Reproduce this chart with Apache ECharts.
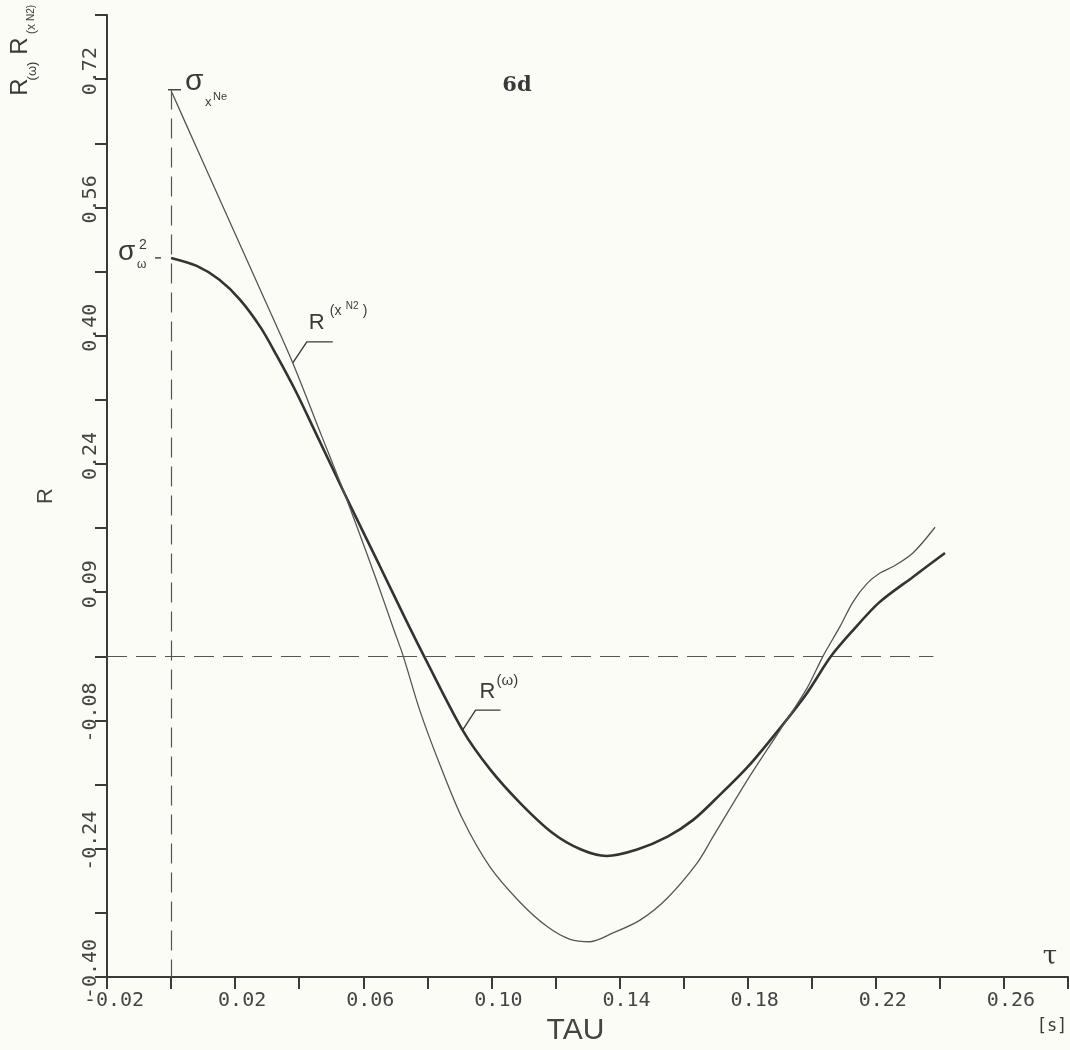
<!DOCTYPE html>
<html>
<head>
<meta charset="utf-8">
<script src="https://cdn.jsdelivr.net/npm/echarts@6/dist/echarts.min.js"></script>
<style>
html, body { margin: 0; padding: 0; background: #fcfcf6; }
#chart { width: 1070px; height: 1050px; }
</style>
</head>
<body>
<div id="chart"></div>
<script>
// tick labels as printed on the plot (every other tick is labelled)
const xTickLabels = ['-0.02', '', '0.02', '', '0.06', '', '0.10', '', '0.14', '', '0.18', '', '0.22', '', '0.26', ''];
const yTickLabels = ['-0.40', '', '-0.24', '', '-0.08', '', '0.09', '', '0.24', '', '0.40', '', '0.56', '', '0.72', ''];

// R(omega) - thick curve
const tauOmega = [0.000, 0.008, 0.015, 0.0215, 0.028, 0.033, 0.039, 0.045, 0.055, 0.065, 0.073, 0.079,
  0.091, 0.0996, 0.109, 0.119, 0.128, 0.136, 0.1455, 0.155, 0.163, 0.170, 0.180, 0.190, 0.1985, 0.206,
  0.213, 0.221, 0.2316, 0.2416];
const rOmega = [0.497, 0.487, 0.470, 0.445, 0.410, 0.375, 0.330, 0.280, 0.196, 0.114, 0.048, 0.000,
  -0.092, -0.141, -0.183, -0.220, -0.241, -0.249, -0.241, -0.225, -0.204, -0.178, -0.138, -0.090, -0.046, 0.000,
  0.033, 0.067, 0.099, 0.129];

// R(x^N2) - thin curve
const tauXN2 = [0.0003, 0.008, 0.018, 0.029, 0.038, 0.047, 0.053, 0.058, 0.0643, 0.0693, 0.0725, 0.0777,
  0.084, 0.091, 0.0996, 0.109, 0.1174, 0.1246, 0.1308, 0.138, 0.1464, 0.1548, 0.1642, 0.1692, 0.1798,
  0.1901, 0.1985, 0.2035, 0.2088, 0.2129, 0.2173, 0.2213, 0.2254, 0.2316, 0.2385];
const rXN2 = [0.703, 0.634, 0.545, 0.447, 0.366, 0.275, 0.215, 0.162, 0.093, 0.036, 0.000, -0.068,
  -0.136, -0.203, -0.263, -0.307, -0.337, -0.353, -0.356, -0.345, -0.329, -0.302, -0.258, -0.225, -0.155,
  -0.092, -0.040, 0.000, 0.037, 0.068, 0.091, 0.104, 0.112, 0.129, 0.161];

const zeroLineEnd = 0.238;

const ink = '#3a3a3a';
const chart = echarts.init(document.getElementById('chart'));

const zip = (xs, ys) => xs.map((x, i) => [x, ys[i]]);

chart.setOption({
  backgroundColor: '#fcfcf6',
  animation: false,
  grid: { left: 107, top: 15, right: 2, bottom: 73, outerBoundsMode: 'none' },
  xAxis: {
    type: 'value',
    min: -0.02,
    max: 0.28,
    interval: 0.02,
    name: 'TAU',
    nameLocation: 'middle',
    nameGap: 38,
    nameTextStyle: { fontFamily: 'Liberation Sans', fontSize: 30, color: '#444', padding: [0, 24, 0, 0] },
    axisLine: { onZero: false, lineStyle: { color: ink, width: 2 } },
    axisTick: { length: 12, lineStyle: { color: ink, width: 2 } },
    splitLine: { show: false },
    axisLabel: {
      formatter: v => xTickLabels[Math.round((v + 0.02) / 0.02)] || '',
      fontFamily: 'DejaVu Sans Mono',
      fontSize: 20,
      color: '#444',
      margin: 14,
      padding: [0, 0, 0, 14]
    }
  },
  yAxis: {
    type: 'value',
    min: -0.40,
    max: 0.80,
    interval: 0.08,
    name: 'R',
    nameLocation: 'middle',
    nameRotate: 90,
    nameGap: 50,
    nameTextStyle: { fontFamily: 'Liberation Sans', fontSize: 22, color: '#444' },
    axisLine: { onZero: false, lineStyle: { color: ink, width: 2 } },
    axisTick: { length: 12, lineStyle: { color: ink, width: 2 } },
    splitLine: { show: false },
    axisLabel: {
      rotate: 90,
      formatter: v => yTickLabels[Math.round((v + 0.40) / 0.08)] || '',
      fontFamily: 'DejaVu Sans Mono',
      fontSize: 20,
      color: '#444',
      margin: 6,
      padding: [0, 0, 0, 16]
    }
  },
  series: [
    {
      name: 'R(omega)',
      type: 'line',
      data: zip(tauOmega, rOmega),
      smooth: 0.3,
      symbol: 'none',
      lineStyle: { color: '#333', width: 2.6 }
    },
    {
      name: 'R(xN2)',
      type: 'line',
      data: zip(tauXN2, rXN2),
      smooth: 0.3,
      symbol: 'none',
      lineStyle: { color: '#555', width: 1.3 },
      markLine: {
        silent: true,
        symbol: 'none',
        label: { show: false },
        lineStyle: { color: '#555', width: 1.2, type: [20, 9] },
        data: [
          [{ coord: [0, rXN2[0] + 0.004] }, { coord: [0, -0.40] }],
          [{ coord: [-0.02, 0] }, { coord: [zeroLineEnd, 0] }]
        ]
      }
    }
  ]
});

// annotations, anchored on the curves through the axes
const px = (x, y) => chart.convertToPixel({ gridIndex: 0 }, [x, y]);
const txt = (text, x, y, size, opt = {}) => ({
  type: 'text',
  x, y,
  rotation: opt.rot || 0,
  style: {
    text,
    fill: '#3a3a3a',
    font: `${opt.weight || 'normal'} ${size}px ${opt.family || 'Liberation Sans'}`,
    textAlign: opt.align || 'left',
    textVerticalAlign: opt.valign || 'bottom'
  }
});
const seg = (pts, w = 1.4) => ({
  type: 'polyline',
  shape: { points: pts },
  style: { stroke: '#3a3a3a', lineWidth: w, fill: null }
});

const sx = px(tauXN2[0], rXN2[0]);       // sigma x^Ne point
const sw = px(tauOmega[0], rOmega[0]);   // sigma omega^2 point
const ax = px(tauXN2[4], rXN2[4]);       // leader on thin curve
const aw = px(tauOmega[12], rOmega[12]); // leader on thick curve
const up = Math.PI / 2;

chart.setOption({
  graphic: [
    // top-left rotated axis titles
    txt('R', 20, 46, 24, { rot: up, align: 'center', valign: 'middle' }),
    txt('(x', 32, 29, 12, { rot: up, align: 'center', valign: 'middle' }),
    txt('N2)', 31, 13, 10, { rot: up, align: 'center', valign: 'middle' }),
    txt('R', 20, 87, 24, { rot: up, align: 'center', valign: 'middle' }),
    txt('(ω)', 32, 71, 13, { rot: up, align: 'center', valign: 'middle' }),
    // panel title
    txt('6d', 517, 86, 21, { weight: 'bold', family: 'DejaVu Serif', align: 'center', valign: 'middle' }),
    // sigma x^Ne
    seg([[sx[0] - 4, sx[1] - 3], [sx[0] + 9, sx[1] - 3]]),
    txt('σ', sx[0] + 13, sx[1] + 4, 30),
    txt('x', sx[0] + 33, sx[1] + 16, 13),
    txt('Ne', sx[0] + 41, sx[1] + 10, 11),
    // sigma omega^2
    txt('σ', sw[0] - 53, sw[1] + 8, 28),
    txt('2', sw[0] - 32, sw[1] - 6, 14),
    txt('ω', sw[0] - 34, sw[1] + 13, 12),
    seg([[sw[0] - 16, sw[1]], [sw[0] - 10, sw[1]]]),
    // R(x^N2) label
    seg([[ax[0], ax[1]], [ax[0] + 14, ax[1] - 21], [ax[0] + 40, ax[1] - 21]]),
    txt('R', ax[0] + 16, ax[1] - 29, 22),
    txt('(x', ax[0] + 37, ax[1] - 45, 14),
    txt('N2', ax[0] + 53, ax[1] - 52, 10),
    txt(')', ax[0] + 70, ax[1] - 45, 14),
    // R(omega) label
    seg([[aw[0], aw[1]], [aw[0] + 13, aw[1] - 20], [aw[0] + 38, aw[1] - 20]]),
    txt('R', aw[0] + 17, aw[1] - 27, 22),
    txt('(ω)', aw[0] + 34, aw[1] - 42, 15),
    // units
    txt('τ', 1050, 957, 26, { family: 'DejaVu Serif', align: 'center', valign: 'middle' }),
    txt('[s]', 1052, 1027, 17, { family: 'DejaVu Sans Mono', align: 'center', valign: 'middle' })
  ]
});
</script>
</body>
</html>
